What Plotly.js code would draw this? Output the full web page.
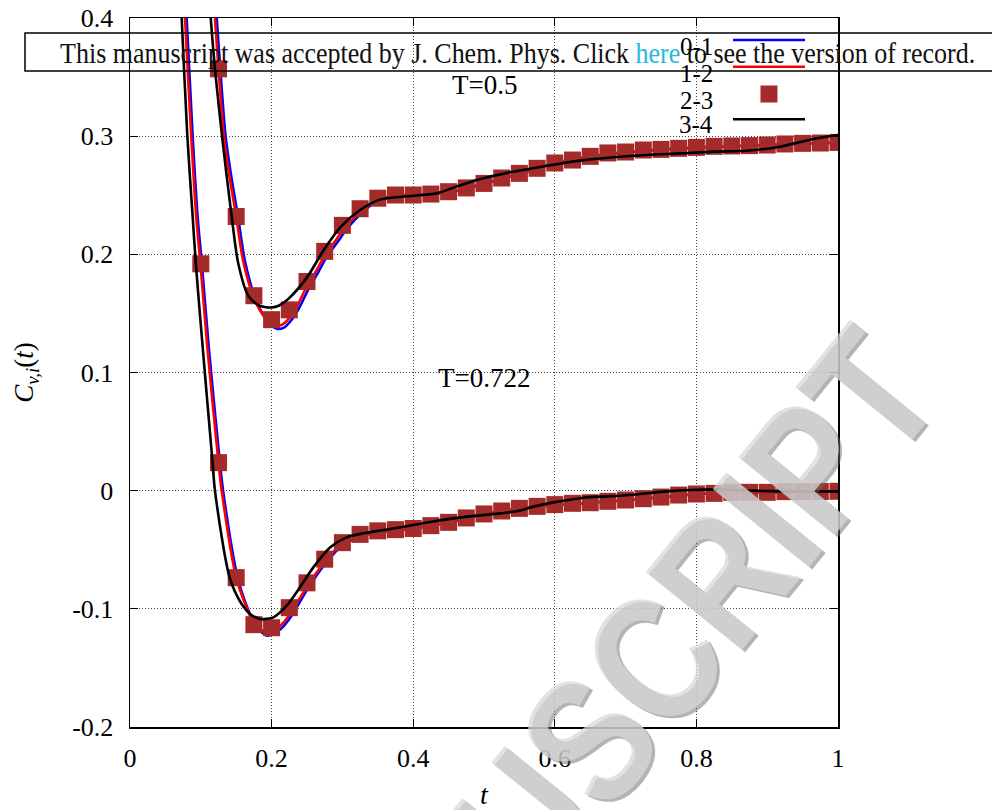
<!DOCTYPE html>
<html>
<head>
<meta charset="utf-8">
<script src="https://cdn.plot.ly/plotly-3.0.1.min.js"></script>
<style>
  html, body { margin: 0; padding: 0; background: #ffffff; }
  #chart { width: 992px; height: 810px; }
</style>
</head>
<body>
<div id="chart"></div>
<script>
// ---- T = 0.5 (upper family) ----
const tSqU = [0.125, 0.15, 0.175, 0.2, 0.225, 0.25, 0.275, 0.3, 0.325, 0.35, 0.375, 0.4, 0.425, 0.45, 0.475, 0.5,
  0.525, 0.55, 0.575, 0.6, 0.625, 0.65, 0.675, 0.7, 0.725, 0.75, 0.775, 0.8, 0.825, 0.85, 0.875, 0.9, 0.925, 0.95, 0.975, 1.0];
const vSqU = [0.357, 0.232, 0.165, 0.1447, 0.153, 0.177, 0.2025, 0.2245, 0.2386, 0.2475, 0.2502, 0.2502, 0.251, 0.253, 0.2562, 0.260,
  0.2646, 0.2685, 0.2728, 0.2773, 0.2798, 0.2829, 0.2858, 0.2866, 0.2883, 0.2888, 0.2897, 0.2905, 0.2914, 0.2917, 0.292, 0.2925, 0.2934, 0.2939, 0.2942, 0.2947];

const tRedU = [0.115, 0.12, 0.125, 0.1325, 0.14, 0.15, 0.16, 0.175, 0.19, 0.205, 0.215, 0.225, 0.235, 0.25, 0.264, 0.275, 0.292, 0.3, 0.32, 0.35,
  0.375, 0.4, 0.425, 0.45, 0.475, 0.5, 0.55, 0.6, 0.65, 0.7, 0.75, 0.8, 0.85, 0.9, 0.95, 1.0];
const vRedU = [0.445, 0.400, 0.357, 0.300, 0.268, 0.232, 0.194, 0.163, 0.147, 0.1395, 0.1405, 0.146, 0.155, 0.173, 0.187, 0.199, 0.213, 0.220, 0.233, 0.2465,
  0.250, 0.2505, 0.251, 0.253, 0.256, 0.260, 0.2685, 0.2773, 0.2829, 0.2866, 0.2888, 0.2905, 0.2917, 0.2925, 0.2939, 0.2947];

const tBluU = [0.1175, 0.1225, 0.1275, 0.135, 0.1425, 0.1525, 0.1625, 0.1775, 0.1925, 0.2075, 0.2175, 0.2275, 0.2375, 0.2525, 0.266, 0.277, 0.294, 0.302, 0.322, 0.35,
  0.375, 0.4, 0.425, 0.45, 0.475, 0.5, 0.55, 0.6, 0.65, 0.7, 0.75, 0.8, 0.85, 0.9, 0.95, 1.0];
const vBluU = [0.445, 0.400, 0.357, 0.300, 0.268, 0.232, 0.194, 0.162, 0.145, 0.137, 0.138, 0.144, 0.153, 0.171, 0.185, 0.197, 0.211, 0.218, 0.232, 0.2455,
  0.2495, 0.250, 0.2505, 0.2525, 0.2555, 0.2595, 0.268, 0.2768, 0.2825, 0.2862, 0.2885, 0.2902, 0.2915, 0.2923, 0.2937, 0.2945];

const tBlkU = [0.111, 0.114, 0.120, 0.130, 0.1436, 0.153, 0.167, 0.180, 0.190, 0.200, 0.210, 0.224, 0.250, 0.273, 0.297, 0.325, 0.353, 0.400,
  0.433, 0.461, 0.490, 0.537, 0.589, 0.636, 0.683, 0.730, 0.777, 0.824, 0.871, 0.918, 0.965, 1.000];
const vBlkU = [0.425, 0.400, 0.357, 0.300, 0.232, 0.192, 0.165, 0.1575, 0.1555, 0.155, 0.1565, 0.1625, 0.1805, 0.203, 0.2228, 0.2375, 0.2463, 0.2496,
  0.2516, 0.2573, 0.2629, 0.2694, 0.275, 0.2793, 0.2821, 0.2841, 0.2854, 0.2869, 0.2877, 0.2911, 0.2976, 0.301];

// ---- T = 0.722 (lower family) ----
const tSqL = [0.1, 0.125, 0.15, 0.175, 0.2, 0.225, 0.25, 0.275, 0.3, 0.325, 0.35, 0.375, 0.4, 0.425, 0.45, 0.475, 0.5,
  0.525, 0.55, 0.575, 0.6, 0.625, 0.65, 0.675, 0.7, 0.725, 0.75, 0.775, 0.8, 0.825, 0.85, 0.875, 0.9, 0.925, 0.95, 0.975, 1.0];
const vSqL = [0.192, 0.0237, -0.0736, -0.1134, -0.116, -0.099, -0.078, -0.058, -0.044, -0.037, -0.034, -0.033, -0.032, -0.0296, -0.0268, -0.0231, -0.0197,
  -0.0172, -0.015, -0.0133, -0.0118, -0.0107, -0.0102, -0.009, -0.0079, -0.0068, -0.0054, -0.0037, -0.0028, -0.0023, -0.0014, -0.0014, -0.0014, -0.0008, -0.0008, -0.0007, -0.0005];

const tRedL = [0.0755, 0.0777, 0.0865, 0.0935, 0.0995, 0.1093, 0.125, 0.1295, 0.15, 0.1624, 0.175, 0.1907, 0.2, 0.2119, 0.226, 0.2496, 0.273, 0.2966, 0.3296, 0.3766,
  0.4237, 0.45, 0.475, 0.5, 0.55, 0.6, 0.65, 0.7, 0.75, 0.8, 0.85, 0.9, 0.95, 1.0];
const vRedL = [0.425, 0.400, 0.300, 0.232, 0.192, 0.121, 0.0237, 0.0, -0.0736, -0.0955, -0.112, -0.1195, -0.119, -0.1145, -0.1045, -0.0815, -0.062, -0.0465, -0.0375, -0.0336,
  -0.0296, -0.0268, -0.0231, -0.0197, -0.015, -0.0118, -0.0102, -0.0079, -0.0054, -0.0028, -0.0014, -0.0014, -0.0008, -0.0005];

const tBluL = [0.0775, 0.080, 0.0885, 0.0955, 0.1015, 0.1113, 0.127, 0.1315, 0.152, 0.1644, 0.177, 0.1927, 0.202, 0.2139, 0.228, 0.2516, 0.275, 0.2986, 0.3316, 0.3766,
  0.4237, 0.45, 0.475, 0.5, 0.55, 0.6, 0.65, 0.7, 0.75, 0.8, 0.85, 0.9, 0.95, 1.0];
const vBluL = [0.425, 0.400, 0.300, 0.232, 0.192, 0.121, 0.0237, 0.0, -0.0736, -0.097, -0.114, -0.1225, -0.1215, -0.1165, -0.106, -0.0825, -0.0625, -0.047, -0.0378, -0.0338,
  -0.0298, -0.027, -0.0233, -0.0199, -0.0152, -0.012, -0.0104, -0.0081, -0.0056, -0.003, -0.0016, -0.0016, -0.001, -0.0007];

const tBlkL = [0.0705, 0.073, 0.081, 0.0885, 0.093, 0.1027, 0.1168, 0.120, 0.141, 0.1577, 0.170, 0.1836, 0.1925, 0.2025, 0.2213, 0.240, 0.2589, 0.2825, 0.306, 0.3296,
  0.3766, 0.4237, 0.476, 0.523, 0.546, 0.570, 0.598, 0.626, 0.645, 0.673, 0.711, 0.758, 0.791, 0.829, 0.876, 0.923, 1.0];
const vBlkL = [0.43, 0.400, 0.300, 0.232, 0.192, 0.121, 0.0226, 0.0, -0.074, -0.0959, -0.1045, -0.1086, -0.1085, -0.1072, -0.0973, -0.0818, -0.0649, -0.048, -0.0395, -0.0361,
  -0.0316, -0.0265, -0.022, -0.0192, -0.0175, -0.0135, -0.0099, -0.0073, -0.0056, -0.0048, -0.0034, -0.0006, 0.0006, 0.0011, 0.0, -0.0006, -0.0006];

// ---- labels and ticks ----
const seriesNames = ['0-1', '1-2', '2-3', '3-4'];
const xTickVals = [0, 0.2, 0.4, 0.6, 0.8, 1];
const xTickText = ['0', '0.2', '0.4', '0.6', '0.8', '1'];
const yTickVals = [-0.2, -0.1, 0, 0.1, 0.2, 0.3, 0.4];
const yTickText = ['-0.2', '-0.1', '0', '0.1', '0.2', '0.3', '0.4'];
const tempLabels = ['T=0.5', 'T=0.722'];
const bannerLead = 'This manuscript was accepted by J. Chem. Phys.';
const bannerText = bannerLead + ' Click <span style="color:#27b9dc">here</span> to see the version of record.';
const watermarkText = 'ACCEPTED MANUSCRIPT';

const BLUE = '#0000ff', RED = '#ff0000', BROWN = '#a52a2a', BLACK = '#000000';
const SERIF = 'Liberation Serif, Times New Roman, serif';
const WM_FONT = 'Liberation Sans, Arial, sans-serif';
const bannerSqueeze = 0.866;
const watermarkSqueeze = 0.82;

function lineTrace(x, y, name, color) {
  return { type: 'scatter', mode: 'lines', x: x, y: y, name: name, showlegend: false,
           line: { color: color, width: 2.6, shape: 'spline', smoothing: 0.8 } };
}
function squareTrace(x, y, name) {
  return { type: 'scatter', mode: 'markers', x: x, y: y, name: name, showlegend: false,
           marker: { symbol: 'square', size: 17, color: BROWN, line: { width: 0 } } };
}

const traces = [
  lineTrace(tBluU, vBluU, seriesNames[0], BLUE),
  lineTrace(tRedU, vRedU, seriesNames[1], RED),
  squareTrace(tSqU, vSqU, seriesNames[2]),
  lineTrace(tBlkU, vBlkU, seriesNames[3], BLACK),
  lineTrace(tBluL, vBluL, seriesNames[0], BLUE),
  lineTrace(tRedL, vRedL, seriesNames[1], RED),
  squareTrace(tSqL, vSqL, seriesNames[2]),
  lineTrace(tBlkL, vBlkL, seriesNames[3], BLACK)
];

// key: labels on the left, samples on the right
const keyLabelX = 0.826;
const keyRowsY = [0.9605, 0.9224, 0.8843, 0.8491];
const keySampleY = [0.969, 0.9313, 0.8928, 0.8571];
const keySampleX0 = 0.8517, keySampleX1 = 0.9534, keySquareX = 0.9025;

function note(x, y, text, font, extra) {
  return Object.assign({ xref: 'paper', yref: 'paper', x: x, y: y, text: text, showarrow: false,
                         xanchor: 'center', yanchor: 'middle', font: font }, extra || {});
}

const annotations = [];
seriesNames.forEach(function (nm, i) {
  annotations.push(note(keyLabelX, keyRowsY[i], nm, { family: SERIF, size: 25, color: '#000' }, { xanchor: 'right' }));
});
annotations.push(note(0.5014, 0.9055, tempLabels[0], { family: SERIF, size: 27, color: '#000' }));
annotations.push(note(0.5, 0.4922, tempLabels[1], { family: SERIF, size: 27, color: '#000' }));
// diagonal watermark: soft shadow layer then lighter face
annotations.push(note(0.2735, -0.4885, watermarkText, { family: WM_FONT, size: 180, weight: 700, color: 'rgba(105,105,105,0.5)' }, { textangle: -51 }));
annotations.push(note(0.270, -0.485, watermarkText, { family: WM_FONT, size: 180, weight: 700, color: 'rgba(216,216,216,0.75)' }, { textangle: -51 }));
// banner
annotations.push(note(0.5473, 0.952, bannerText, { family: SERIF, size: 30, color: '#111' }));

const shapes = [
  { type: 'line', xref: 'paper', yref: 'paper', x0: keySampleX0, x1: keySampleX1, y0: keySampleY[0], y1: keySampleY[0], line: { color: BLUE, width: 2.6 } },
  { type: 'line', xref: 'paper', yref: 'paper', x0: keySampleX0, x1: keySampleX1, y0: keySampleY[1], y1: keySampleY[1], line: { color: RED, width: 2.6 } },
  { type: 'rect', xref: 'paper', yref: 'paper', x0: keySquareX - 0.012, x1: keySquareX + 0.012, y0: keySampleY[2] - 0.012, y1: keySampleY[2] + 0.012,
    fillcolor: BROWN, line: { width: 0 } },
  { type: 'line', xref: 'paper', yref: 'paper', x0: keySampleX0, x1: keySampleX1, y0: keySampleY[3], y1: keySampleY[3], line: { color: BLACK, width: 2.6 } },
  { type: 'rect', xref: 'paper', yref: 'paper', x0: -0.1483, x1: 1.222, y0: 0.9252, y1: 0.9788, line: { color: '#000', width: 1.5 }, fillcolor: 'rgba(0,0,0,0)' }
];

const axisCommon = {
  showline: true, mirror: 'ticks', linecolor: '#000', linewidth: 1.5,
  ticks: 'inside', ticklen: 8, tickwidth: 1, tickcolor: '#000',
  showgrid: true, gridcolor: '#444', gridwidth: 1, griddash: '1px,2px',
  zeroline: false, tickfont: { family: SERIF, size: 26, color: '#000' }
};

const layout = {
  width: 992, height: 810,
  margin: { l: 130, r: 154, t: 18, b: 83 },
  paper_bgcolor: '#fff', plot_bgcolor: '#fff',
  showlegend: false,
  xaxis: Object.assign({}, axisCommon, {
    range: [0, 1], tickmode: 'array', tickvals: xTickVals, ticktext: xTickText, ticklabelstandoff: 7,
    title: { text: '<i>t</i>', font: { family: SERIF, size: 28, color: '#000' }, standoff: 20 }
  }),
  yaxis: Object.assign({}, axisCommon, {
    range: [-0.2, 0.4], tickmode: 'array', tickvals: yTickVals, ticktext: yTickText, ticklabelstandoff: 10,
    title: { text: '<i>C</i><sub><i>v,i</i></sub>(<i>t</i>)', font: { family: SERIF, size: 27, color: '#000' }, standoff: 30 }
  }),
  annotations: annotations,
  shapes: shapes
};

// narrow the banner line and the watermark along their own baselines
function squeezeTexts(gd) {
  gd.querySelectorAll('.annotation-text').forEach(function (el) {
    if (el.getAttribute('data-squeezed')) return;
    const txt = el.textContent;
    let k = 0;
    if (txt.indexOf(bannerLead) === 0) k = bannerSqueeze;
    else if (txt === watermarkText) k = watermarkSqueeze;
    if (!k) return;
    const b = el.getBBox();
    const cx = b.x + b.width / 2;
    const prev = el.getAttribute('transform') || '';
    el.setAttribute('transform', prev + ' translate(' + cx + ',0) scale(' + k + ',1) translate(' + (-cx) + ',0)');
    el.setAttribute('data-squeezed', '1');
  });
}

Plotly.newPlot('chart', traces, layout, { staticPlot: true, displayModeBar: false }).then(squeezeTexts);
</script>
</body>
</html>
